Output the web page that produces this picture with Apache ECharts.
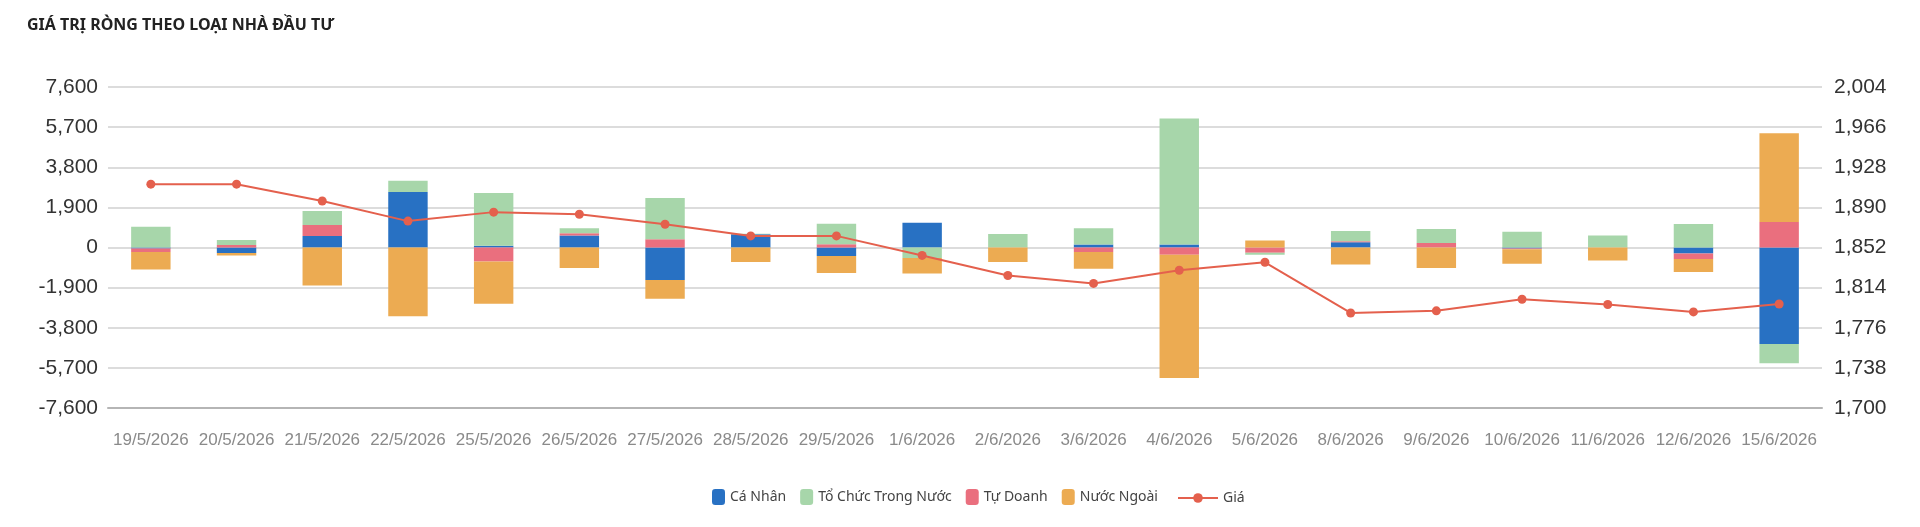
<!DOCTYPE html>
<html>
<head>
<meta charset="utf-8">
<script src="https://cdn.jsdelivr.net/npm/echarts@6/dist/echarts.min.js"></script>
<style>
  html, body { margin: 0; padding: 0; background: #fff; }
  #chart { width: 1920px; height: 527px; }
</style>
</head>
<body>
<div id="chart"></div>
<script>
const categories = ["19/5/2026", "20/5/2026", "21/5/2026", "22/5/2026", "25/5/2026", "26/5/2026", "27/5/2026", "28/5/2026", "29/5/2026", "1/6/2026",
  "2/6/2026", "3/6/2026", "4/6/2026", "5/6/2026", "8/6/2026", "9/6/2026", "10/6/2026", "11/6/2026", "12/6/2026", "15/6/2026"];

const caNhan = [-50, -260, 548, 2630, 78, 564, -1535, 630, -407, 1175, 0, 141, 140, 0, 250, 0, -50, 0, -280, -4570];
const toChuc = [980, 240, 658, 532, 2505, 235, 1957, 20, 971, -501, 642, 767, 5964, -94, 480, 654, 750, 570, 1110, -908];
const tuDoanh = [-160, 120, 517, 0, -658, 110, 391, 0, 157, 0, 0, -219, -345, -250, 50, 218, -30, 0, -265, 1205];
const nuocNgoai = [-830, -120, -1800, -3257, -2004, -971, -893, -690, -800, -736, -690, -783, -5840, 329, -800, -966, -690, -620, -610, 4210];
const gia = [1912, 1912, 1896, 1877, 1885.5, 1883.5, 1874, 1863, 1863, 1844.5, 1825.5, 1818, 1830.5, 1838, 1790, 1792, 1803, 1798, 1791, 1798.5];

const leftTicks = [-7600, -5700, -3800, -1900, 0, 1900, 3800, 5700, 7600];
const rightTicks = [1700, 1738, 1776, 1814, 1852, 1890, 1928, 1966, 2004];

const fmt = v => Number(v).toLocaleString("en-US");

const chart = echarts.init(document.getElementById("chart"));

const barSeries = (name, data, color) => ({
  name: name,
  type: "bar",
  stack: "net",
  barWidth: "46%",
  data: data,
  itemStyle: { color: color },
});

const legendText = { fontFamily: "Noto Sans", fontSize: 14, color: "#444" };

chart.setOption({
  animation: false,
  title: {
    text: "GIÁ TRỊ RÒNG THEO LOẠI NHÀ ĐẦU TƯ",
    left: 22,
    top: 12,
    textStyle: { fontFamily: "Noto Sans", fontSize: 16, fontWeight: "bold", color: "#222" },
  },
  legend: [
    {
      bottom: 17,
      left: 707,
      itemWidth: 13,
      itemHeight: 16,
      itemGap: 14,
      icon: "roundRect",
      data: ["Cá Nhân", "Tổ Chức Trong Nước", "Tự Doanh", "Nước Ngoài"],
      textStyle: legendText,
    },
    {
      bottom: 17,
      left: 1172,
      itemWidth: 40,
      itemHeight: 12,
      data: ["Giá"],
      textStyle: legendText,
    },
  ],
  grid: { left: 108, right: 98, top: 87, bottom: 119 },
  xAxis: {
    type: "category",
    data: categories,
    axisLine: { onZero: false, lineStyle: { color: "#b5b5b5", width: 2 } },
    axisTick: { show: false },
    axisLabel: { interval: 0, color: "#8a8a8a", fontFamily: "Liberation Sans", fontSize: 17, margin: 24 },
  },
  yAxis: [
    {
      type: "value",
      min: leftTicks[0],
      max: leftTicks[leftTicks.length - 1],
      interval: 1900,
      axisLine: { show: false },
      axisTick: { show: false },
      splitLine: { lineStyle: { color: "#dcdcdc", width: 2 } },
      axisLabel: { color: "#333", fontFamily: "Liberation Sans", fontSize: 21, margin: 10, formatter: fmt },
    },
    {
      type: "value",
      min: rightTicks[0],
      max: rightTicks[rightTicks.length - 1],
      axisLine: { show: false },
      axisTick: { show: false },
      splitLine: { show: false },
      axisLabel: {
        color: "#333", fontFamily: "Liberation Sans", fontSize: 21, margin: 12,
        customValues: rightTicks, formatter: fmt,
      },
    },
  ],
  series: [
    barSeries("Cá Nhân", caNhan, "#2871c3"),
    barSeries("Tự Doanh", tuDoanh, "#ea6f7e"),
    barSeries("Tổ Chức Trong Nước", toChuc, "#a7d6aa"),
    barSeries("Nước Ngoài", nuocNgoai, "#ecab52"),
    {
      name: "Giá",
      type: "line",
      yAxisIndex: 1,
      data: gia,
      z: 5,
      symbol: "circle",
      symbolSize: 9,
      itemStyle: { color: "#e4604d" },
      lineStyle: { color: "#e4604d", width: 2 },
    },
  ],
});
</script>
</body>
</html>
